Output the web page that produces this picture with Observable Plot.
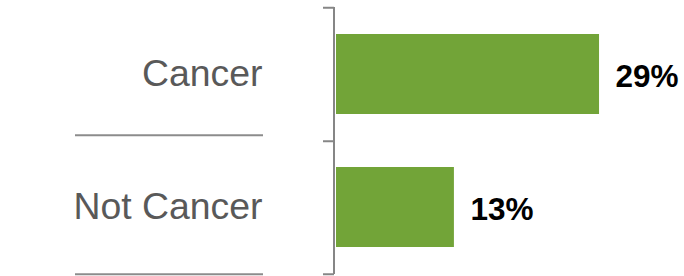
<!DOCTYPE html>
<html>
<head>
<meta charset="utf-8">
<script src="https://cdn.jsdelivr.net/npm/d3@7"></script>
<script src="https://cdn.jsdelivr.net/npm/@observablehq/plot@0.6"></script>
<style>
  html, body { margin: 0; padding: 0; background: #fff; }
  #chart svg { display: block; }
</style>
</head>
<body>
<div id="chart"></div>
<script>
// ---- data ----
const categories = ["Cancer", "Not Cancer"];
const values = [29, 13];
const valueLabels = ["29%", "13%"];

const rows = categories.map((c, i) => ({category: c, value: values[i], label: valueLabels[i]}));

// ---- layout ----
const W = 684, H = 276;
const x0 = 336;          // pixel where bars start
const pxPerUnit = 9.07;  // pixels per percentage point
const xMax = d3.max(values);
const marginTop = 7, marginBottom = 2;

const xScale = Plot.scale({x: {domain: [0, xMax], range: [x0, x0 + xMax * pxPerUnit]}});
const yScale = Plot.scale({y: {type: "band", domain: categories, range: [marginTop, H - marginBottom], paddingInner: 0.4, paddingOuter: 0.2}});
const step = yScale.step;

const font = "Arial, 'Liberation Sans', sans-serif";
const axisGray = "#868686";
const sepGray = "#8c8c8c";
const green = "#72A438";

const chart = Plot.plot({
  width: W,
  height: H,
  marginTop,
  marginBottom,
  marginLeft: x0,
  marginRight: 0,
  style: {background: "#fff", fontFamily: font, overflow: "visible"},
  x: {domain: [0, xMax], range: [x0, x0 + xMax * pxPerUnit], axis: null},
  y: {type: "band", domain: categories, paddingInner: 0.4, paddingOuter: 0.2, axis: null},
  marks: [
    // bars
    Plot.barX(rows, {y: "category", x: "value", fill: green}),
    // left separators under the category labels
    Plot.ruleY(rows.slice(0, 1), {y: "category", dy: step / 2 - 6, x1: xScale.invert(75), x2: xScale.invert(263), stroke: sepGray, strokeWidth: 2}),
    Plot.ruleY(rows.slice(1), {y: "category", dy: step / 2, x1: xScale.invert(75), x2: xScale.invert(263), stroke: sepGray, strokeWidth: 2}),
    // axis ticks at band boundaries
    Plot.ruleY(rows.slice(0, 1), {y: "category", dy: -step / 2, x1: xScale.invert(325), x2: 0, dx: -2, stroke: axisGray, strokeWidth: 2}),
    Plot.ruleY(rows, {y: "category", dy: step / 2, x1: xScale.invert(325), x2: 0, dx: -2, stroke: axisGray, strokeWidth: 2}),
    // vertical axis line
    Plot.ruleX([0], {dx: -2.5, stroke: axisGray, strokeWidth: 2}),
    // category labels
    Plot.text(rows, {y: "category", x: 0, text: "category", dx: -74, textAnchor: "end", fontSize: 37.4, fill: "#595959", fontFamily: font}),
    // value labels
    Plot.text(rows, {y: "category", x: "value", text: "label", dx: 16, dy: 2, textAnchor: "start", fontSize: 31.5, fontWeight: "bold", fill: "#000", fontFamily: font})
  ]
});
document.getElementById("chart").appendChild(chart);
</script>
</body>
</html>
